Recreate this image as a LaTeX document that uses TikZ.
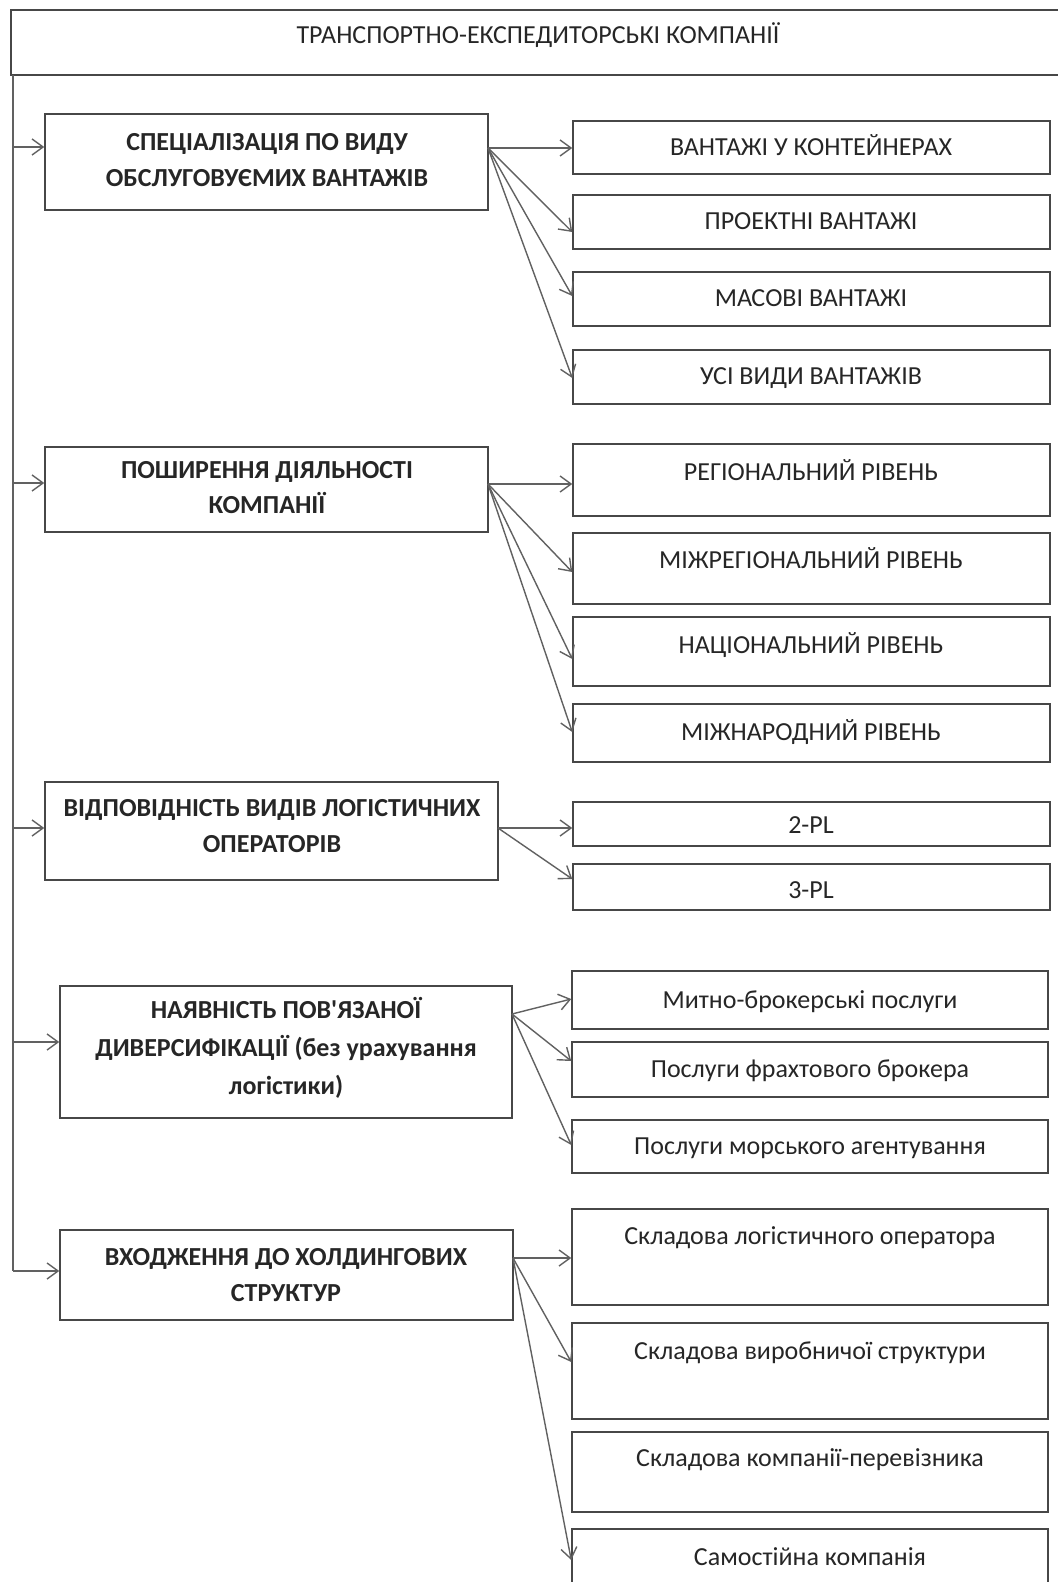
\documentclass[tikz,border=0pt]{standalone}
\usepackage{fontspec}
\setmainfont{Carlito}[Ligatures=TeXOff]
\usetikzlibrary{arrows.meta,fit,calc}
\begin{document}
\begin{tikzpicture}[x=0.5pt,y=-0.5pt,
  box/.style={draw=black!72, line width=0.75pt, inner sep=0pt},
  tx/.style={anchor=base, inner sep=0pt, text=black!85, font=\fontsize{13}{16}\selectfont},
  tb/.style={tx, font=\bfseries\fontsize{13}{16}\selectfont},
  arr/.style={draw=black!62, line width=0.7pt, -{Straight Barb[length=5.5pt,width=8pt]}},
  ln/.style={draw=black!62, line width=0.7pt}]
\useasboundingbox (0,0) rectangle (1058,1582);
\clip (0,0) rectangle (1058,1582);
\fill[white] (0,0) rectangle (1058,1582);

% title
\node[box, fit={(11,10)(1080,75)}] (title) {};
\node[tx] (titlet) at (538,44) {ТРАНСПОРТНО-ЕКСПЕДИТОРСЬКІ КОМПАНІЇ};

% left category boxes
\node[box, fit={(45,114)(488,210)}] (A) {};
\node[tb] (A1) at (267,151) {СПЕЦІАЛІЗАЦІЯ ПО ВИДУ};
\node[tb] (A2) at (267,187) {ОБСЛУГОВУЄМИХ ВАНТАЖІВ};

\node[box, fit={(45,447)(488,532)}] (B) {};
\node[tb] (B1) at (267,479) {ПОШИРЕННЯ ДІЯЛЬНОСТІ};
\node[tb] (B2) at (267,514) {КОМПАНІЇ};

\node[box, fit={(45,782)(498,880)}] (C) {};
\node[tb] (C1) at (272,816) {ВІДПОВІДНІСТЬ ВИДІВ ЛОГІСТИЧНИХ};
\node[tb] (C2) at (272,852) {ОПЕРАТОРІВ};

\node[box, fit={(60,986)(512,1118)}] (D) {};
\node[tb] (D1) at (286,1018) {НАЯВНІСТЬ ПОВ'ЯЗАНОЇ};
\node[tb] (D2) at (286,1056) {ДИВЕРСИФІКАЦІЇ (без урахування};
\node[tb] (D3) at (286,1094) {логістики)};

\node[box, fit={(60,1230)(513,1320)}] (E) {};
\node[tb] (E1) at (286,1265) {ВХОДЖЕННЯ ДО ХОЛДИНГОВИХ};
\node[tb] (E2) at (286,1301) {СТРУКТУР};

% group 1
\node[box, fit={(573,121)(1050,174)}] (g11) {};
\node[box, fit={(573,195)(1050,249)}] (g12) {};
\node[box, fit={(573,272)(1050,326)}] (g13) {};
\node[box, fit={(573,350)(1050,404)}] (g14) {};
\node[tx] (t11) at (811,156) {ВАНТАЖІ У КОНТЕЙНЕРАХ};
\node[tx] (t12) at (811,230) {ПРОЕКТНІ ВАНТАЖІ};
\node[tx] (t13) at (811,307) {МАСОВІ ВАНТАЖІ};
\node[tx] (t14) at (811,385) {УСІ ВИДИ ВАНТАЖІВ};

% group 2
\node[box, fit={(573,444)(1050,516)}] (g21) {};
\node[box, fit={(573,533)(1050,604)}] (g22) {};
\node[box, fit={(573,617)(1050,686)}] (g23) {};
\node[box, fit={(573,704)(1050,762)}] (g24) {};
\node[tx] (t21) at (811,481) {РЕГІОНАЛЬНИЙ РІВЕНЬ};
\node[tx] (t22) at (811,568) {МІЖРЕГІОНАЛЬНИЙ РІВЕНЬ};
\node[tx] (t23) at (811,653) {НАЦІОНАЛЬНИЙ РІВЕНЬ};
\node[tx] (t24) at (811,740) {МІЖНАРОДНИЙ РІВЕНЬ};

% group 3
\node[box, fit={(573,802)(1050,846)}] (g31) {};
\node[box, fit={(573,864)(1050,910)}] (g32) {};
\node[tx] (t31) at (811,833) {2-PL};
\node[tx] (t32) at (811,898) {3-PL};

% group 4
\node[box, fit={(572,971)(1048,1029)}] (g41) {};
\node[box, fit={(572,1042)(1048,1097)}] (g42) {};
\node[box, fit={(572,1120)(1048,1173)}] (g43) {};
\node[tx] (t41) at (810,1008) {Митно-брокерські послуги};
\node[tx] (t42) at (810,1077) {Послуги фрахтового брокера};
\node[tx] (t43) at (810,1154) {Послуги морського агентування};

% group 5
\node[box, fit={(572,1209)(1048,1305)}] (g51) {};
\node[box, fit={(572,1323)(1048,1419)}] (g52) {};
\node[box, fit={(572,1432)(1048,1512)}] (g53) {};
\node[box, fit={(572,1529)(1048,1600)}] (g54) {};
\node[tx] (t51) at (810,1244) {Складова логістичного оператора};
\node[tx] (t52) at (810,1359) {Складова виробничої структури};
\node[tx] (t53) at (810,1466) {Складова компанії-перевізника};
\node[tx] (t54) at (810,1565) {Самостійна компанія};

% trunk
\coordinate (tk0) at (13,75);
\coordinate (tk1) at (13,1271);
\draw[ln] (tk0) -- (tk1);
\coordinate (inA) at (13,147);
\coordinate (inB) at (13,483);
\coordinate (inC) at (13,828);
\coordinate (inD) at (13,1042);
\draw[arr] (inA) -- (inA -| A.west);
\draw[arr] (inB) -- (inB -| B.west);
\draw[arr] (inC) -- (inC -| C.west);
\draw[arr] (inD) -- (inD -| D.west);
\draw[arr] (tk1) -- (tk1 -| E.west);

% fan-outs
\coordinate (oA) at (488,148);
\draw[arr] (oA) -- (oA -| g11.west);
\draw[arr] (oA) -- (g12.west |- 0,232);
\draw[arr] (oA) -- (g13.west |- 0,296);
\draw[arr] (oA) -- (g14.west |- 0,378);

\coordinate (oB) at (488,484);
\draw[arr] (oB) -- (oB -| g21.west);
\draw[arr] (oB) -- (g22.west |- 0,572);
\draw[arr] (oB) -- (g23.west |- 0,659);
\draw[arr] (oB) -- (g24.west |- 0,732);

\coordinate (oC) at (498,828);
\draw[arr] (oC) -- (oC -| g31.west);
\draw[arr] (oC) -- (g32.west |- 0,879);

\coordinate (oD) at (512,1014);
\draw[arr] (oD) -- (g41.west |- 0,999);
\draw[arr] (oD) -- (g42.west |- 0,1061);
\draw[arr] (oD) -- (g43.west |- 0,1145);

\coordinate (oE) at (513,1258);
\draw[arr] (oE) -- (oE -| g51.west);
\draw[arr] (oE) -- (g52.west |- 0,1362);
\draw[arr] (oE) -- (g54.west |- 0,1560);
\end{tikzpicture}
\end{document}
